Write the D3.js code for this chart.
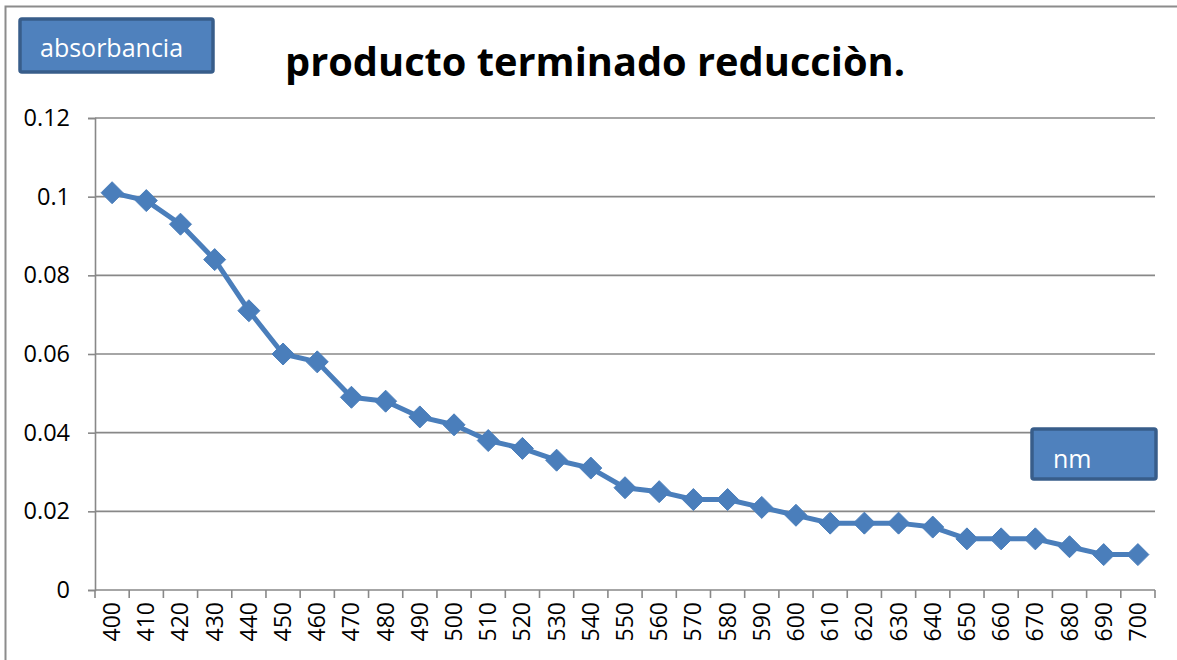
<!DOCTYPE html>
<html>
<head>
<meta charset="utf-8">
<script src="https://cdn.jsdelivr.net/npm/d3@7"></script>
<style>
  body { margin: 0; background: #fff; }
  text { font-family: "Open Sans", "Liberation Sans", sans-serif; }
</style>
</head>
<body>
<svg id="chart" width="1177" height="660"></svg>
<script>
// datos
var wavelengths = [400, 410, 420, 430, 440, 450, 460, 470, 480, 490, 500,
                   510, 520, 530, 540, 550, 560, 570, 580, 590, 600,
                   610, 620, 630, 640, 650, 660, 670, 680, 690, 700];
var absorbance = [0.101, 0.099, 0.093, 0.084, 0.071, 0.060, 0.058, 0.049, 0.048, 0.044, 0.042,
                  0.038, 0.036, 0.033, 0.031, 0.026, 0.025, 0.023, 0.023, 0.021, 0.019,
                  0.017, 0.017, 0.017, 0.016, 0.013, 0.013, 0.013, 0.011, 0.009, 0.009];
var yTicks = [0, 0.02, 0.04, 0.06, 0.08, 0.1, 0.12];

var svg = d3.select('#chart');
var plot = { left: 95, right: 1155, top: 118, bottom: 590 };
var lineColor = '#4A7EBB';

// marco del grafico
svg.append('rect')
  .attr('x', 5.5).attr('y', 6.5)
  .attr('width', 1180).attr('height', 670)
  .style('fill', 'none')
  .style('stroke', '#8c8c8c')
  .style('stroke-width', 2);

var x = d3.scaleBand()
  .domain(wavelengths)
  .range([plot.left, plot.right]);

var y = d3.scaleLinear()
  .domain([0, 0.12])
  .range([plot.bottom, plot.top]);

// lineas de cuadricula
svg.append('g')
  .selectAll('line')
  .data(yTicks.filter(function (d) { return d > 0; }))
  .enter().append('line')
  .attr('x1', plot.left).attr('x2', plot.right)
  .attr('y1', function (d) { return y(d); })
  .attr('y2', function (d) { return y(d); })
  .style('stroke', '#888')
  .style('stroke-width', 1.6);

// eje y
var yAxis = svg.append('g')
  .attr('transform', 'translate(' + plot.left + ',0)')
  .call(d3.axisLeft(y).tickValues(yTicks).tickSize(7).tickPadding(18)
    .tickFormat(function (d) { return d3.format('')(+d.toFixed(2)); }));
yAxis.select('.domain').style('stroke', '#888').style('stroke-width', 1.6);
yAxis.selectAll('.tick line').style('stroke', '#888').style('stroke-width', 1.6);
yAxis.selectAll('.tick text')
  .style('font-size', '23.5px')
  .style('fill', '#000')
  .style('font-family', '"Open Sans", sans-serif');

// eje x (marcas en los limites de cada banda)
var xAxis = svg.append('g')
  .attr('transform', 'translate(0,' + plot.bottom + ')');
xAxis.append('line')
  .attr('x1', plot.left).attr('x2', plot.right)
  .style('stroke', '#888').style('stroke-width', 1.6);
xAxis.selectAll('line.tk')
  .data(wavelengths.concat(['end']))
  .enter().append('line')
  .attr('class', 'tk')
  .attr('x1', function (d, i) { return i < wavelengths.length ? x(d) : plot.right; })
  .attr('x2', function (d, i) { return i < wavelengths.length ? x(d) : plot.right; })
  .attr('y1', 0).attr('y2', 8)
  .style('stroke', '#888').style('stroke-width', 1.6);
xAxis.selectAll('text')
  .data(wavelengths)
  .enter().append('text')
  .attr('transform', function (d) {
    return 'translate(' + (x(d) + x.bandwidth() / 2 + 8) + ',12) rotate(-90)';
  })
  .attr('text-anchor', 'end')
  .style('font-size', '23px')
  .text(function (d) { return d; });

// serie
var line = d3.line()
  .x(function (d, i) { return x(wavelengths[i]) + x.bandwidth() / 2; })
  .y(function (d) { return y(d); });

svg.append('path')
  .datum(absorbance)
  .attr('d', line)
  .style('fill', 'none')
  .style('stroke', lineColor)
  .style('stroke-width', 5)
  .style('stroke-linejoin', 'round');

svg.append('g')
  .selectAll('path')
  .data(absorbance)
  .enter().append('path')
  .attr('transform', function (d, i) {
    return 'translate(' + (x(wavelengths[i]) + x.bandwidth() / 2) + ',' + y(d) + ')';
  })
  .attr('d', 'M0,-11L11,0L0,11L-11,0Z')
  .style('fill', lineColor)
  .style('stroke', lineColor)
  .style('stroke-width', 1);

// titulo
svg.append('text')
  .attr('x', 285).attr('y', 76)
  .attr('textLength', 620)
  .attr('lengthAdjust', 'spacingAndGlyphs')
  .style('font-size', '40px')
  .style('font-weight', 'bold')
  .text('producto terminado reducciòn.');

// etiquetas de los ejes en cajas
function labelBox(bx, by, bw, bh, label, tx, ty) {
  svg.append('rect')
    .attr('x', bx).attr('y', by)
    .attr('width', bw).attr('height', bh)
    .attr('rx', 2)
    .style('fill', '#4F81BD')
    .style('stroke', '#385D8A')
    .style('stroke-width', 3.5);
  svg.append('text')
    .attr('x', tx).attr('y', ty)
    .style('font-size', '25px')
    .style('fill', '#fff')
    .text(label);
}
labelBox(20, 19, 193, 53, 'absorbancia', 40, 57);
labelBox(1032, 429, 124, 50, 'nm', 1053, 468);
</script>
</body>
</html>
